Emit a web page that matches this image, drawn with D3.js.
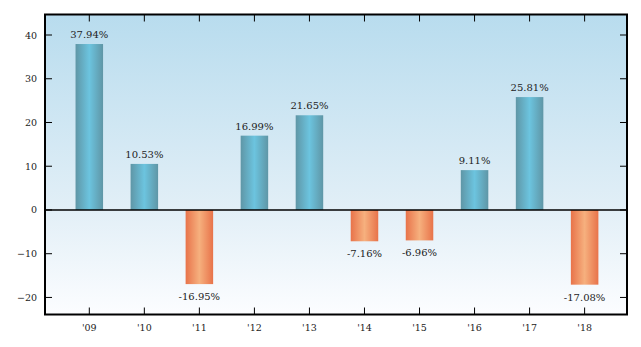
<!DOCTYPE html>
<html><head><meta charset="utf-8">
<script src="https://cdn.jsdelivr.net/npm/d3@7/dist/d3.min.js"></script>
<style>body{margin:0;background:#fff}svg{display:block}text{font-family:"DejaVu Serif",serif;fill:#222}</style>
</head><body>
<script>
const categories = ["'09","'10","'11","'12","'13","'14","'15","'16","'17","'18"];
const values = [37.94,10.53,-16.95,16.99,21.65,-7.16,-6.96,9.11,25.81,-17.08];
const yTicks = [-20,-10,0,10,20,30,40];

const W=641,H=347, L=45, R=627, T=14.5, B=314.5;
const svg=d3.select("body").append("svg").attr("width",W).attr("height",H);
const defs=svg.append("defs");
const bg=defs.append("linearGradient").attr("id","bg").attr("x1",0).attr("y1",0).attr("x2",0).attr("y2",1);
bg.append("stop").attr("offset","0").attr("stop-color","#b8dcee");
bg.append("stop").attr("offset","0.65").attr("stop-color","#e2eff7");
bg.append("stop").attr("offset","1").attr("stop-color","#fcfdff");
const gp=defs.append("linearGradient").attr("id","gp").attr("x1",0).attr("x2",1).attr("y1",0).attr("y2",0);
[["0","#5f96a6"],["0.5","#6cc4df"],["1","#5f96a6"]].forEach(s=>gp.append("stop").attr("offset",s[0]).attr("stop-color",s[1]));
const gn=defs.append("linearGradient").attr("id","gn").attr("x1",0).attr("x2",1).attr("y1",0).attr("y2",0);
[["0","#e8734a"],["0.5","#f6b07e"],["1","#e8734a"]].forEach(s=>gn.append("stop").attr("offset",s[0]).attr("stop-color",s[1]));

const x=d3.scaleLinear().domain([-0.805,9.77]).range([L,R]);
const y=d3.scaleLinear().domain([-23.9,44.69]).range([B,T]);
const bw=x(0.5)-x(0);

svg.append("rect").attr("x",L).attr("y",T).attr("width",R-L).attr("height",B-T).attr("fill","url(#bg)");

svg.selectAll(".bar").data(values).enter().append("rect")
 .attr("x",(d,i)=>x(i)-bw/2).attr("width",bw)
 .attr("y",d=>y(Math.max(0,d))).attr("height",d=>Math.abs(y(d)-y(0)))
 .attr("fill",d=>d>=0?"url(#gp)":"url(#gn)");

svg.selectAll(".lbl").data(values).enter().append("text")
 .attr("x",(d,i)=>x(i)).attr("y",d=>d>=0?y(d)-6:y(d)+16)
 .attr("text-anchor","middle").attr("font-size","10px")
 .text(d=>d.toFixed(2)+"%");

svg.append("line").attr("x1",L).attr("x2",R).attr("y1",y(0)).attr("y2",y(0)).attr("stroke","#000").attr("stroke-width",1.6);

// axes ticks
const tk=7;
const ax=svg.append("g");
yTicks.forEach(t=>{
  ax.append("line").attr("x1",L).attr("x2",L+tk).attr("y1",y(t)).attr("y2",y(t)).attr("stroke","#000");
  ax.append("line").attr("x1",R-tk).attr("x2",R).attr("y1",y(t)).attr("y2",y(t)).attr("stroke","#000");
  ax.append("text").attr("x",L-8).attr("y",y(t)+3.5).attr("text-anchor","end").attr("font-size","9.5px")
    .text(t<0?"\u2212"+Math.abs(t):t);
});
categories.forEach((c,i)=>{
  ax.append("line").attr("x1",x(i)).attr("x2",x(i)).attr("y1",B).attr("y2",B-tk).attr("stroke","#000");
  ax.append("line").attr("x1",x(i)).attr("x2",x(i)).attr("y1",T).attr("y2",T+tk).attr("stroke","#000");
  ax.append("text").attr("x",x(i)).attr("y",B+16).attr("text-anchor","middle").attr("font-size","9.5px").text(c);
});
svg.append("rect").attr("x",L).attr("y",T).attr("width",R-L).attr("height",B-T).attr("fill","none").attr("stroke","#000").attr("stroke-width",2);
</script>
</body></html>
